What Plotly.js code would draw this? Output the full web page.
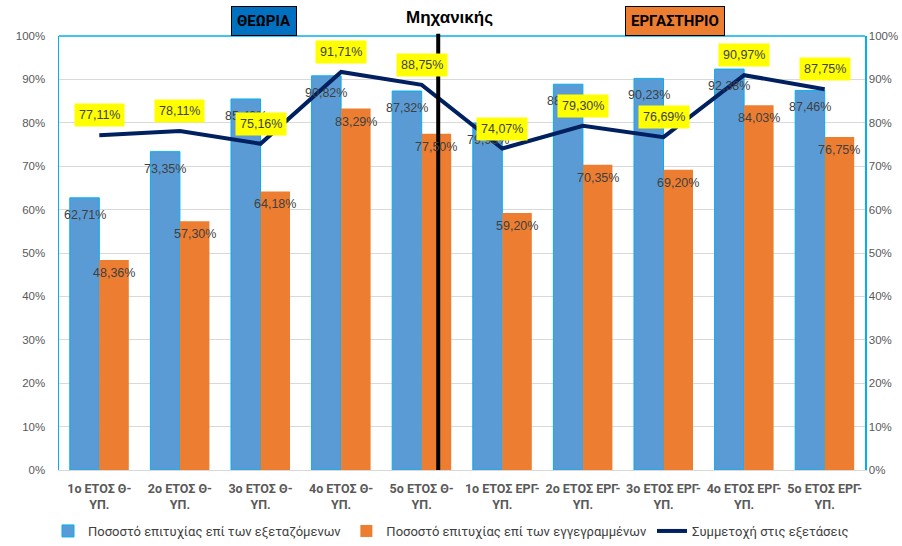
<!DOCTYPE html>
<html>
<head>
<meta charset="utf-8">
<script src="https://cdn.plot.ly/plotly-3.0.1.min.js"></script>
<style>
html,body{margin:0;padding:0;background:#fff;}
#chart{width:902px;height:546px;}
</style>
</head>
<body>
<div id="chart"></div>
<script>
const categories = ["1ο ΕΤΟΣ Θ-<br>ΥΠ.","2ο ΕΤΟΣ Θ-<br>ΥΠ.","3ο ΕΤΟΣ Θ-<br>ΥΠ.","4ο ΕΤΟΣ Θ-<br>ΥΠ.","5ο ΕΤΟΣ Θ-<br>ΥΠ.",
  "1ο ΕΤΟΣ ΕΡΓ-<br>ΥΠ.","2ο ΕΤΟΣ ΕΡΓ-<br>ΥΠ.","3ο ΕΤΟΣ ΕΡΓ-<br>ΥΠ.","4ο ΕΤΟΣ ΕΡΓ-<br>ΥΠ.","5ο ΕΤΟΣ ΕΡΓ-<br>ΥΠ."];
const examinedRate = [62.71, 73.35, 85.49, 90.82, 87.32, 79.93, 88.89, 90.23, 92.38, 87.46];
const enrolledRate = [48.36, 57.30, 64.18, 83.29, 77.50, 59.20, 70.35, 69.20, 84.03, 76.75];
const participation = [77.11, 78.11, 75.16, 91.71, 88.75, 74.07, 79.30, 76.69, 90.97, 87.75];
const seriesNames = ["Ποσοστό επιτυχίας επί των εξεταζόμενων","Ποσοστό επιτυχίας επί των εγγεγραμμένων","Συμμετοχή στις εξετάσεις"];
const yTicks = [0,10,20,30,40,50,60,70,80,90,100];
const yTickText = yTicks.map(t => t + '%');

const xs = categories.map((_, i) => i);
const fmt = v => v.toFixed(2).replace('.', ',') + '%';
const BAR_OFF = 0.183;
const NARROW = 'Roboto, Liberation Sans, sans-serif';

const traces = [
  {type:'bar', x: xs, y: examinedRate, name: seriesNames[0],
   marker:{color:'#5B9BD5', line:{color:'#00B0F0', width:1}}, hoverinfo:'none'},
  {type:'bar', x: xs, y: enrolledRate, name: seriesNames[1],
   marker:{color:'#ED7D31', line:{width:0}}, hoverinfo:'none'},
  {type:'scatter', mode:'lines', x: xs, y: participation, name: seriesNames[2], yaxis:'y2',
   line:{color:'#002060', width:4}, hoverinfo:'none'}
];

const labelFont = {family:'Liberation Sans, Arial, sans-serif', size:12.5, color:'#404040'};
const annotations = [];
examinedRate.forEach((v,i)=>annotations.push({x:i-BAR_OFF, y:v, xref:'x', yref:'y', text:fmt(v), showarrow:false, yanchor:'middle', yshift:-17, font:labelFont}));
enrolledRate.forEach((v,i)=>annotations.push({x:i+BAR_OFF, y:v, xref:'x', yref:'y', text:fmt(v), showarrow:false, yanchor:'middle', yshift:-13, font:labelFont}));
participation.forEach((v,i)=>annotations.push({x:i, y:v, xref:'x', yref:'y', text:fmt(v), showarrow:false, yanchor:'bottom', yshift:8, bgcolor:'#FFFF00', borderpad:4, font:labelFont}));
annotations.push({xref:'paper', yref:'paper', x:0.485, xanchor:'center', y:1, yanchor:'bottom', yshift:7, text:'<b>Μηχανικής</b>', showarrow:false, font:{family:'Liberation Sans, Arial, sans-serif', size:17, color:'#000'}});
annotations.push({xref:'paper', yref:'paper', x:0.254, xanchor:'center', y:1, yanchor:'bottom', yshift:0, text:'<b>ΘΕΩΡΙΑ</b>', showarrow:false, bgcolor:'#0070C0', bordercolor:'#000', borderwidth:1, borderpad:5, font:{family:NARROW, size:15, color:'#000'}});
annotations.push({xref:'paper', yref:'paper', x:0.764, xanchor:'center', y:1, yanchor:'bottom', yshift:0, text:'<b>ΕΡΓΑΣΤΗΡΙΟ</b>', showarrow:false, bgcolor:'#ED7D31', bordercolor:'#000', borderwidth:1, borderpad:5, font:{family:NARROW, size:15, color:'#000'}});

const tickFont = {family:'Liberation Sans, Arial, sans-serif', size:11.5, color:'#595959'};
const layout = {
  width:902, height:546,
  margin:{l:59, r:37, t:36, b:76, autoexpand:false},
  paper_bgcolor:'#fff', plot_bgcolor:'#fff',
  barmode:'group', bargap:0.268, bargroupgap:0,
  showlegend:true,
  legend:{orientation:'h', x:0.5, xref:'container', xanchor:'center', y:0.0, yref:'container', yanchor:'bottom',
    font:{family:NARROW, size:13, color:'#404040'},
    traceorder:'normal', itemwidth:30, tracegroupgap:0},
  xaxis:{range:[-0.5,9.5], tickvals:xs, ticktext:categories, tickangle:0,
    tickfont:{family:NARROW, size:12.5, color:'#595959', weight:'bold'},
    showgrid:false, zeroline:false, showline:true, linecolor:'#d9d9d9', linewidth:1, ticks:'', ticklabelstandoff:7, fixedrange:true},
  yaxis:{range:[0,100], tickvals:yTicks, ticktext:yTickText, tickfont:tickFont,
    showgrid:true, gridcolor:'#d9d9d9', gridwidth:1, zeroline:false, ticklabelstandoff:10,
    showline:true, linecolor:'#00B0F0', linewidth:1.5, ticks:'', fixedrange:true},
  yaxis2:{range:[0,100], tickvals:yTicks, ticktext:yTickText, tickfont:tickFont, overlaying:'y', side:'right',
    showgrid:false, zeroline:false, showline:true, linecolor:'#00B0F0', linewidth:1.5, ticks:'', fixedrange:true},
  shapes:[
    {type:'line', xref:'paper', yref:'paper', x0:0, x1:1, y0:1, y1:1, line:{color:'#00B0F0', width:1.5}},
    {type:'line', xref:'paper', yref:'paper', x0:0.4705, x1:0.4705, y0:0, y1:1.005, line:{color:'#000', width:4}, layer:'above'}
  ],
  annotations: annotations
};
Plotly.newPlot('chart', traces, layout, {displayModeBar:false, staticPlot:true});
</script>
</body>
</html>
